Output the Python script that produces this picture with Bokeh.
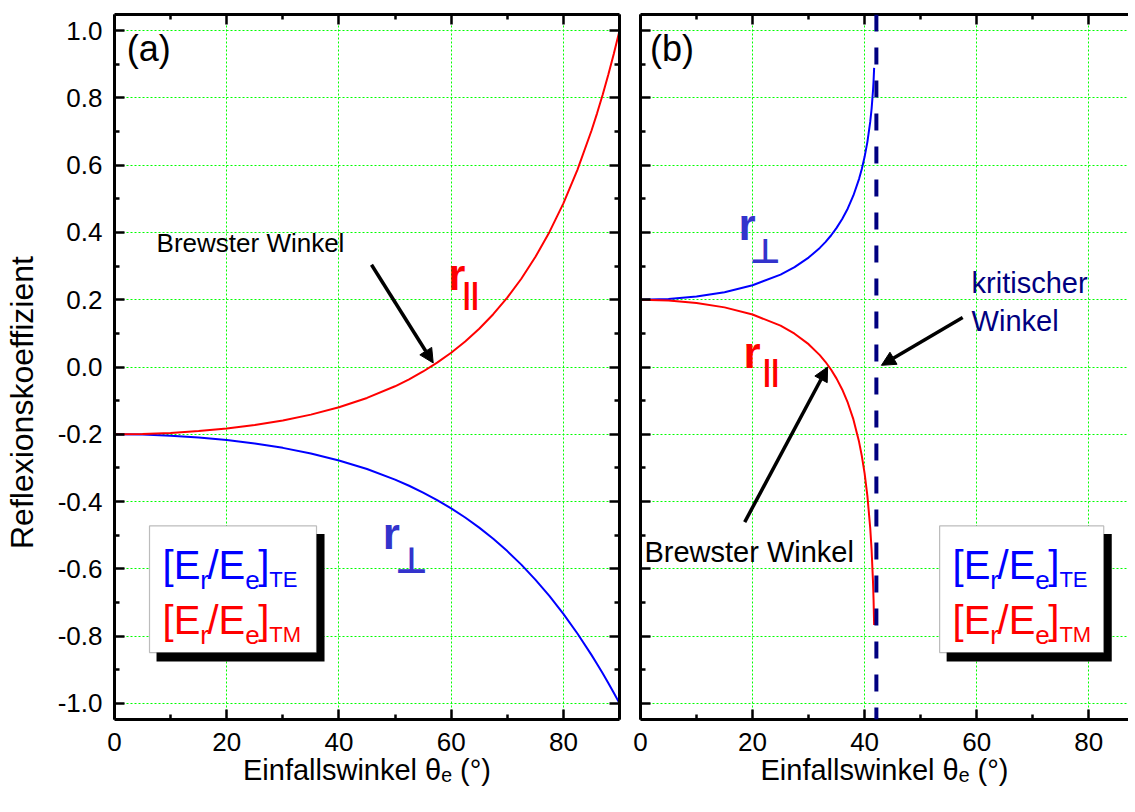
from bokeh.plotting import figure
from bokeh.models import (Range1d, FixedTicker, LinearAxis, Label, Arrow, NormalHead,
                          BoxAnnotation, Span, PrintfTickFormatter)
from bokeh.layouts import row
from bokeh.embed import file_html
from bokeh.resources import INLINE

# ---------------- data ----------------
# panel (a): external reflection
theta_a = [0, 5, 10, 15, 20, 25, 30, 35, 40, 45, 50, 52.5, 55, 57.5, 60, 62.5, 65, 67.5,
           70, 72.5, 75, 77.5, 80, 82.5, 85, 86, 87, 88, 89, 90]
rperp_a = [-0.2000, -0.2010, -0.2041, -0.2094, -0.2170, -0.2272, -0.2404, -0.2571, -0.2778,
           -0.3033, -0.3347, -0.3530, -0.3732, -0.3955, -0.4202, -0.4475, -0.4776, -0.5108,
           -0.5474, -0.5876, -0.6320, -0.6806, -0.7339, -0.7922, -0.8558, -0.8828, -0.9107,
           -0.9395, -0.9693, -1.0000]
rpar_a = [-0.2000, -0.1990, -0.1959, -0.1906, -0.1829, -0.1725, -0.1589, -0.1416, -0.1196,
          -0.0920, -0.0573, -0.0366, -0.0133, 0.0129, 0.0425, 0.0759, 0.1139, 0.1570,
          0.2061, 0.2623, 0.3268, 0.4009, 0.4866, 0.5862, 0.7023, 0.7542, 0.8096,
          0.8688, 0.9322, 1.0000]
# panel (b): internal reflection
theta_b = [0, 5, 10, 15, 20, 25, 27.5, 30, 32, 33, 34, 35, 36, 37, 38, 39, 39.5, 40,
           40.5, 41, 41.25, 41.5, 41.6, 41.7]
rperp_b = [0.2000, 0.2023, 0.2095, 0.2225, 0.2430, 0.2748, 0.2969, 0.3252, 0.3541, 0.3714,
           0.3910, 0.4136, 0.4401, 0.4715, 0.5100, 0.5587, 0.5889, 0.6249, 0.6695, 0.7287,
           0.7683, 0.8216, 0.8506, 0.8893]
rpar_b = [0.2000, 0.1977, 0.1905, 0.1773, 0.1562, 0.1228, 0.0990, 0.0679, 0.0353, 0.0155,
          -0.0075, -0.0345, -0.0668, -0.1062, -0.1559, -0.2218, -0.2642, -0.3163, -0.3837,
          -0.4781, -0.5446, -0.6389, -0.6925, -0.7671]

x_ticks = [0, 20, 40, 60, 80]
x_minor = [10, 30, 50, 70, 90]
y_ticks = [-1.0, -0.8, -0.6, -0.4, -0.2, 0.0, 0.2, 0.4, 0.6, 0.8, 1.0]
y_minor = [-0.9, -0.7, -0.5, -0.3, -0.1, 0.1, 0.3, 0.5, 0.7, 0.9]

brewster_a = 56.8     # arrow tip, panel (a)
brewster_b = 33.4     # arrow tip, panel (b)
critical_b = 42.1     # dashed line, panel (b)

FONT = "Liberation Sans"
RED = "#ff0000"
BLUE = "#0000ff"
PERP = "#3333cc"
NAVY = "#000080"

AW = {'[': 0.278, ']': 0.278, 'E': 0.667, '/': 0.278, 'r': 0.333, 'e': 0.556,
      'T': 0.611, 'M': 0.833}


def tw(s, size):
    return sum(AW.get(c, 0.556) for c in s) * size


def lab(p, x, y, text, size, color="black", bold=False, font=FONT, xo=0, yo=0):
    # baseline correction: the rendered alphabetic baseline sits ~0.34 em low
    p.add_layout(Label(x=x, y=y, text=text, x_offset=xo, y_offset=yo + 0.34 * size,
                       text_font=font, text_font_size=f"{size}px", text_color=color,
                       text_font_style="bold" if bold else "normal",
                       text_baseline="alphabetic", text_align="left"))


def style_axis(ax, labels):
    ax.axis_line_width = 3
    ax.axis_line_color = "black"
    ax.major_tick_in = 10
    ax.major_tick_out = 0
    ax.minor_tick_in = 5
    ax.minor_tick_out = 0
    ax.major_tick_line_width = 2.5
    ax.minor_tick_line_width = 2.5
    ax.major_tick_line_color = "black"
    ax.minor_tick_line_color = "black"
    if labels:
        ax.major_label_text_font = FONT
        ax.major_label_text_font_size = "26px"
        ax.major_label_text_color = "black"
        ax.major_label_standoff = 12
    else:
        ax.major_label_text_font_size = "0px"
        ax.major_label_text_color = None
        ax.major_label_standoff = 0


def make_fig(xmax, fw, bl, br, ylabels, right_axis):
    p = figure(frame_width=fw, frame_height=705, x_range=Range1d(0, xmax),
               y_range=Range1d(-1.048, 1.048), output_backend="svg", toolbar_location=None,
               min_border_left=bl, min_border_right=br, min_border_top=14, min_border_bottom=77)
    p.outline_line_color = None
    p.background_fill_color = "white"
    p.border_fill_color = "white"
    p.xaxis.ticker = FixedTicker(ticks=x_ticks, minor_ticks=x_minor)
    p.yaxis.ticker = FixedTicker(ticks=y_ticks, minor_ticks=y_minor)
    p.yaxis.formatter = PrintfTickFormatter(format="%.1f")
    top = LinearAxis(ticker=FixedTicker(ticks=x_ticks, minor_ticks=x_minor))
    p.add_layout(top, "above")
    style_axis(top, False)
    if right_axis:
        ra = LinearAxis(ticker=FixedTicker(ticks=y_ticks, minor_ticks=y_minor))
        p.add_layout(ra, "right")
        style_axis(ra, False)
    xb = p.below[0]
    style_axis(xb, True)
    xb.major_label_standoff = 13
    xb.axis_label = "Einfallswinkel θₑ (°)"
    xb.axis_label_text_font = FONT
    xb.axis_label_text_font_size = "29px"
    xb.axis_label_text_font_style = "normal"
    xb.axis_label_text_color = "black"
    xb.axis_label_standoff = 0
    style_axis(p.left[0], ylabels)
    for g in p.grid:
        g.grid_line_color = "#00ff00"
        g.grid_line_dash = "2 2"
        g.grid_line_width = 1
    return p


def legend_box(p, l, r, ls, rs):
    p.add_layout(BoxAnnotation(left=ls, right=rs, top=-0.4963, bottom=-0.8756,
                               fill_color="black", fill_alpha=1, line_color=None))
    p.add_layout(BoxAnnotation(left=l, right=r, top=-0.4726, bottom=-0.8489,
                               fill_color="white", fill_alpha=1, line_color="#222222",
                               line_width=1.2))


def legend_text(p, x, y, color, sub):
    pieces = [("[", 40, 0), ("E", 40, 0), ("r", 26, -10), ("/", 40, 0), ("E", 40, 0),
              ("e", 26, -10), ("]", 40, 0), (sub, 22, -8)]
    xo = 0
    for t, s, dy in pieces:
        lab(p, x, y, t, s, color=color, xo=xo, yo=dy)
        xo += tw(t, s) - (1.5 if s == 26 else 0)


def arrow(p, xs, ys, xe, ye):
    p.add_layout(Arrow(end=NormalHead(size=14, fill_color="black", line_color="black"),
                       x_start=xs, y_start=ys, x_end=xe, y_end=ye,
                       line_width=3.5, line_color="black"))


# ---------------- panel (a) ----------------
pa = make_fig(90, 505, 113, 10, True, True)
ya = pa.left[0]
ya.axis_label = "Reflexionskoeffizient" + "\u00a0" * 8
ya.axis_label_text_font = FONT
ya.axis_label_text_font_size = "32px"
ya.axis_label_text_font_style = "normal"
ya.axis_label_text_color = "black"
ya.axis_label_standoff = 15

pa.line(theta_a, rperp_a, line_color=BLUE, line_width=2)
pa.line(theta_a, rpar_a, line_color=RED, line_width=2)

lab(pa, 2.2, 0.91, "(a)", 36)
lab(pa, 7.5, 0.342, "Brewster Winkel", 26)
arrow(pa, 45.8, 0.304, brewster_a, 0.012)
lab(pa, 59.5, 0.2296, "r", 44, RED, bold=True)
lab(pa, 62.0, 0.1896, "||", 30, RED, bold=True)
lab(pa, 47.8, -0.540, "r", 44, PERP, bold=True)
lab(pa, 50.0, -0.612, "⊥", 36, PERP, bold=True, font="DejaVu Sans")

legend_box(pa, 6.24, 36.0, 7.49, 37.43)
legend_text(pa, 8.56, -0.6296, BLUE, "TE")
legend_text(pa, 8.56, -0.7926, RED, "TM")

# ---------------- panel (b) ----------------
pb = make_fig(87.1, 488, 11, 0, False, False)

pb.add_layout(Span(location=critical_b, dimension="height", line_color=NAVY,
                   line_width=4, line_dash="17 16"))
pb.line(theta_b, rperp_b, line_color=BLUE, line_width=2)
pb.line(theta_b, rpar_b, line_color=RED, line_width=2)

lab(pb, 1.7, 0.91, "(b)", 36)
lab(pb, 17.5, 0.378, "r", 44, PERP, bold=True)
lab(pb, 19.5, 0.310, "⊥", 34, PERP, bold=True, font="DejaVu Sans")
lab(pb, 18.4, 0.0, "r", 44, RED, bold=True)
lab(pb, 21.8, -0.04, "||", 30, RED, bold=True)
lab(pb, 0.7, -0.579, "Brewster Winkel", 29)
arrow(pb, 18.6, -0.461, brewster_b, 0.0)
lab(pb, 59.1, 0.221, "kritischer", 29, NAVY)
lab(pb, 59.1, 0.108, "Winkel", 29, NAVY)
arrow(pb, 57.5, 0.147, 43.0, 0.005)

legend_box(pb, 53.39, 82.68, 54.64, 84.11)
legend_text(pb, 55.7, -0.6296, BLUE, "TE")
legend_text(pb, 55.7, -0.7926, RED, "TM")

layout = row(pa, pb)
open("out.html", "w").write(file_html(layout, INLINE))
